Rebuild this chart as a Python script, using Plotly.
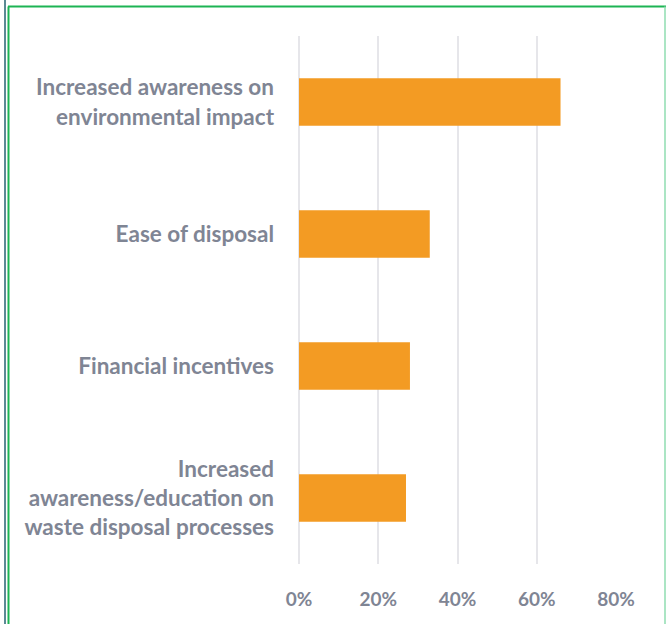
import plotly.graph_objects as go

categories = [
    "Increased awareness on<br>environmental impact",
    "Ease of disposal",
    "Financial incentives",
    "Increased<br>awareness/education on<br>waste disposal processes",
]
values = [0.66, 0.33, 0.28, 0.27]
tick_vals = [0, 0.2, 0.4, 0.6, 0.8]
tick_text = ["0%", "20%", "40%", "60%", "80%"]

BAR = "#F39B23"
TXT = "#7F8594"
GRID = "#E6E6EA"
FONT = "Lato, 'Open Sans', sans-serif"

fig = go.Figure(go.Bar(
    x=values, y=categories, orientation="h",
    marker=dict(color=BAR, line=dict(width=0)),
    width=0.36,
))

W, H = 666, 624
L, R, T, B = 299, 50, 36, 60
pw, ph = W - L - R, H - T - B

def px(x):
    return (x - L) / pw

def py(y):
    return (H - B - y) / ph

fig.update_layout(
    width=W, height=H,
    margin=dict(l=L, r=R, t=T, b=B),
    paper_bgcolor="white", plot_bgcolor="white",
    showlegend=False,
    font=dict(family=FONT, color=TXT),
    xaxis=dict(
        range=[0, 0.8], tickvals=tick_vals, ticktext=tick_text,
        showgrid=True, gridcolor=GRID, gridwidth=2,
        zeroline=True, zerolinecolor=GRID, zerolinewidth=2, showline=False,
        tickfont=dict(family=FONT, size=19, color=TXT, weight="bold"),
        ticklabelstandoff=22,
    ),
    yaxis=dict(
        categoryorder="array", categoryarray=categories[::-1],
        range=[-0.5, 3.5],
        showgrid=False, zeroline=False, showline=False,
        tickfont=dict(family=FONT, size=22.5, color=TXT, weight="bold"),
        ticklabelstandoff=24,
    ),
    shapes=[
        dict(type="line", xref="paper", yref="paper", x0=px(5), x1=px(5), y0=py(0), y1=py(H),
             line=dict(color="#5B8A94", width=2)),
        dict(type="line", xref="paper", yref="paper", x0=px(8.5), x1=px(8.5), y0=py(6.5), y1=py(H),
             line=dict(color="#1DB454", width=2)),
        dict(type="line", xref="paper", yref="paper", x0=px(8), x1=px(666), y0=py(6.5), y1=py(6.5),
             line=dict(color="#1DB454", width=2)),
        dict(type="line", xref="paper", yref="paper", x0=px(665), x1=px(665), y0=py(6.5), y1=py(H),
             line=dict(color="#8FDDB0", width=1.5)),
    ],
)

fig.write_html("out.html", config={"displayModeBar": False},
               post_script="document.body.style.margin='0';")
